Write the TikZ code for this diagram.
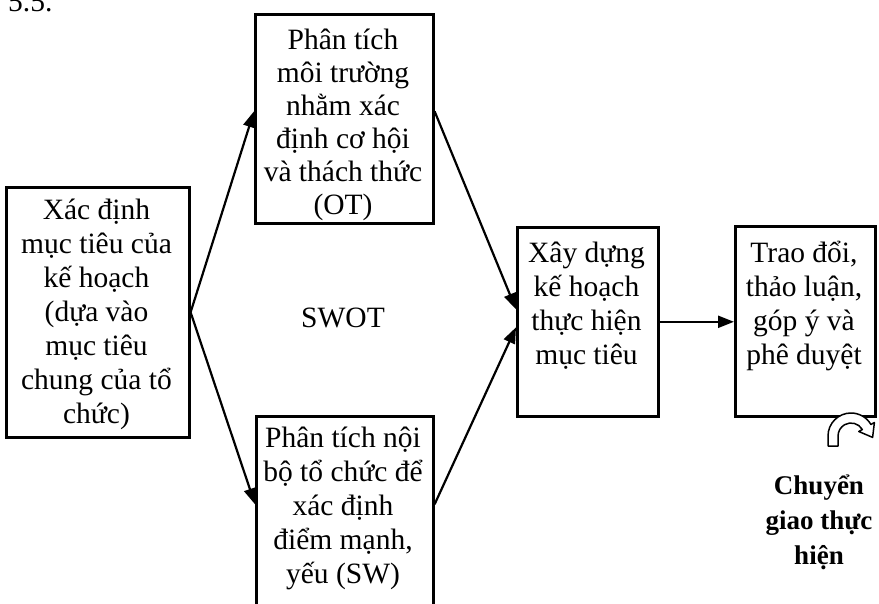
\documentclass[tikz,border=0pt]{standalone}
\usepackage{fontspec}
\setmainfont{Liberation Serif}
\usetikzlibrary{arrows.meta}
\begin{document}
\begin{tikzpicture}[x=1pt,y=-1pt,
  box/.style={draw, line width=2.6pt, rectangle, inner sep=0pt, anchor=north west},
  txt/.style={align=center, inner sep=0pt, font=\fontsize{29.5}{34}\selectfont},
  conn/.style={line width=2.2pt, -{Triangle[length=16pt,width=12pt]}}]
\useasboundingbox (0,0) rectangle (879,604);
% boxes
\node[box, minimum width=183pt, minimum height=250pt] (A) at (5,186) {};
\node[box, minimum width=178pt, minimum height=209pt] (B) at (254,13) {};
\node[box, minimum width=177pt, minimum height=200pt] (C) at (255,415) {};
\node[box, minimum width=141pt, minimum height=189pt] (D) at (516,226) {};
\node[box, minimum width=140pt, minimum height=190pt] (E) at (734,225) {};
% texts
\node[txt] (tA) at (96.5,314) {Xác định\\mục tiêu của\\kế hoạch\\(dựa vào\\mục tiêu\\chung của tổ\\chức)};
\node[txt, font=\fontsize{29.5}{33}\selectfont] (tB) at (343,125) {Phân tích\\môi trường\\nhằm xác\\định cơ hội\\và thách thức\\(OT)};
\node[txt] (tC) at (343,508) {Phân tích nội\\bộ tổ chức để\\xác định\\điểm mạnh,\\yếu (SW)};
\node[txt] (tD) at (586.5,306) {Xây dựng\\kế hoạch\\thực hiện\\mục tiêu};
\node[txt] (tE) at (804,306) {Trao đổi,\\thảo luận,\\góp ý và\\phê duyệt};
\node[txt] (swot) at (343,318) {SWOT};
\node[txt, font=\fontsize{27}{35}\selectfont\bfseries] (tF) at (819,522) {Chuyển\\giao thực\\hiện};
\node[txt, anchor=base west] (num) at (8,12) {5.5.};
% connectors
\draw[conn] (A.east) -- ([yshift=7.5pt]B.west);
\draw[conn] (A.east) -- ([yshift=12pt]C.west);
\draw[conn] ([yshift=7.5pt]B.east) -- ([yshift=12.5pt]D.west);
\draw[conn] ([yshift=12pt]C.east) -- ([yshift=-5.5pt]D.west);
\draw[conn] (D.east) -- (D.east -| E.west);
% curved hollow arrow
\begin{scope}[shift={(851,436)}, yscale=-1]
\draw[line width=1.5pt, fill=white, line join=round]
  (-23,-10) -- (-23,0) arc[start angle=180, end angle=30, radius=23]
  -- (23.4,13.5) -- (21.6,-1.4) -- (7.8,4.5)
  -- (11.3,6.5) arc[start angle=30, end angle=180, radius=13] -- (-13,-10) -- cycle;
\end{scope}
\end{tikzpicture}
\end{document}
